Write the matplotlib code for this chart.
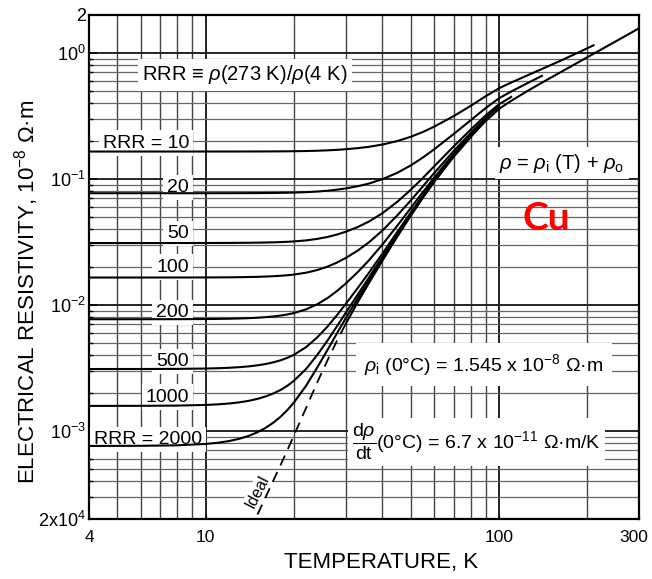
import numpy as np
import matplotlib.pyplot as plt
from matplotlib.transforms import ScaledTranslation

plt.rcParams['font.family'] = ['Liberation Sans', 'DejaVu Sans']
plt.rcParams['mathtext.fontset'] = 'custom'
plt.rcParams['mathtext.rm'] = 'Liberation Sans'
plt.rcParams['mathtext.it'] = 'Liberation Sans:italic'
plt.rcParams['mathtext.bf'] = 'Liberation Sans:bold'

# ideal (intrinsic) resistivity of Cu, in 10^-8 ohm m
T_ideal = [4, 6, 8, 10, 11, 12, 13, 14, 15, 16, 17, 18, 19, 20, 22, 24, 26, 28,
           30, 33, 36, 40, 45, 50, 55, 60, 70, 80, 90, 100, 110, 125, 140, 160,
           180, 210, 240, 270, 300]
rho_ideal = [2.9e-7, 2.2e-6, 9.3e-6, 2.84e-5, 4.58e-5, 7.1e-5, 1.06e-4, 1.53e-4,
             2.16e-4, 2.98e-4, 4.04e-4, 5.37e-4, 7.08e-4, 9.25e-4, 1.53e-3,
             2.43e-3, 3.63e-3, 5.18e-3, 7.07e-3, 1.055e-2, 1.49e-2, 2.24e-2,
             3.49e-2, 5.10e-2, 7.09e-2, 9.44e-2, 0.150, 0.215, 0.288, 0.360,
             0.417, 0.499, 0.581, 0.691, 0.806, 0.985, 1.172, 1.367, 1.568]

# residual resistivity for each RRR and where each curve stops
rrr = [10, 20, 50, 100, 200, 500, 1000, 2000]
rho_0 = [0.165, 0.077, 0.031, 0.0165, 0.0077, 0.0031, 0.00158, 0.00076]
T_end = [210, 140, 110, 100, 90, 80, 80, 80]
rrr_labels = ['RRR = 10', '20', '50', '100', '200', '500', '1000', 'RRR = 2000']

x_ticks = [4, 10, 100, 300]
y_ticks = [2e-4, 1e-3, 1e-2, 1e-1, 1, 2]
y_ticklabels = ['2x10$^{4}$', '10$^{-3}$', '10$^{-2}$', '10$^{-1}$', '10$^{0}$', '2']

fig = plt.figure(figsize=(6.52, 5.79), dpi=100)
ax = fig.add_axes([0.1365, 0.1036, 0.8436, 0.8705])
ax.set_xscale('log')
ax.set_yscale('log')
ax.set_xlim(4, 300)
ax.set_ylim(2e-4, 2)

# chart-paper grid
for x in [5, 6, 7, 8, 9, 20, 30, 40, 50, 60, 70, 80, 90, 200]:
    ax.axvline(x, color='#444444', lw=1.0, zorder=1)
for x in [10, 100]:
    ax.axvline(x, color='#222222', lw=1.4, zorder=1)
for d in range(-4, 1):
    for m in range(1, 10):
        v = m * 10.0 ** d
        if 2e-4 < v < 2:
            if m == 1:
                ax.axhline(v, color='#222222', lw=1.4, zorder=1)
            else:
                ax.axhline(v, color='#666666', lw=0.9, zorder=1)

T = np.array(T_ideal)
ri = np.array(rho_ideal)

# rho = rho_i(T) + rho_0
for r0, te in zip(rho_0, T_end):
    m = T <= te
    ax.plot(T[m], ri[m] + r0, color='black', lw=1.5, zorder=4)

m = T <= 30
ax.plot(T[m], ri[m], color='black', lw=1.3, ls=(0, (6, 4)), zorder=4)
m = T >= 30
ax.plot(T[m], ri[m], color='black', lw=1.5, zorder=4)

box = dict(facecolor='white', edgecolor='none', pad=3)

# RRR labels stacked on the left
label_y = [0.746, 0.657, 0.567, 0.500, 0.409, 0.313, 0.242, 0.157]
label_x = [0.182, 0.182, 0.182, 0.182, 0.182, 0.182, 0.182, 0.205]
for lab, lx, ly in zip(rrr_labels, label_x, label_y):
    ax.text(lx, ly, lab, transform=ax.transAxes, ha='right', va='center',
            fontsize=14, bbox=box, zorder=3)

ax.text(0.284, 0.881, r'RRR ≡ $\rho$(273 K)/$\rho$(4 K)', transform=ax.transAxes,
        ha='center', va='center', fontsize=14.5, bbox=box, zorder=3)
ax.text(0.86, 0.706, r'$\rho$ = $\rho_{\rm i}$ (T) + $\rho_{\rm o}$', transform=ax.transAxes,
        ha='center', va='center', fontsize=14.5, bbox=box, zorder=3)
ax.text(0.718, 0.306, r'$\rho_{\rm i}$ (0°C) = 1.545 x 10$^{-8}$ Ω·m', transform=ax.transAxes,
        ha='center', va='center', fontsize=14, bbox=dict(facecolor='white', edgecolor='none', pad=6), zorder=3)
ax.text(0.704, 0.153, r'$\dfrac{\mathrm{d}\rho}{\mathrm{dt}}$(0°C) = 6.7 x 10$^{-11}$ Ω·m/K',
        transform=ax.transAxes, ha='center', va='center', fontsize=14,
        bbox=dict(facecolor='white', edgecolor='none', pad=3), zorder=3)
ax.text(15.0, 3.3e-4, 'Ideal', rotation=63, ha='center', va='center', fontsize=11.5,
        bbox=dict(facecolor='white', edgecolor='none', pad=1), zorder=3)

ax.text(0.831, 0.597, 'Cu', transform=ax.transAxes, ha='center', va='center',
        fontsize=28, fontweight='bold', color='#ff0000', family=['Lato', 'DejaVu Sans'],
        zorder=5)

ax.set_xticks(x_ticks)
ax.set_xticklabels([str(t) for t in x_ticks])
ax.set_xticks([], minor=True)
ax.set_yticks(y_ticks)
ax.set_yticklabels(y_ticklabels)
ax.tick_params(which='both', direction='in', labelsize=13)
ax.tick_params(axis='x', pad=8, labelsize=12.5)
ax.tick_params(axis='y', which='major', length=6, width=1.2, pad=2)
ax.tick_params(axis='y', which='minor', length=3, width=1.0)
for s in ax.spines.values():
    s.set_linewidth(1.6)

# nudge the last temperature label so it stays inside the figure
lbl = ax.get_xticklabels()[-1]
lbl.set_transform(lbl.get_transform() + ScaledTranslation(-5 / 100, 0, fig.dpi_scale_trans))

fig.text(0.584, 0.028, 'TEMPERATURE, K', ha='center', va='center', fontsize=16)
fig.text(0.040, 0.496, 'ELECTRICAL RESISTIVITY, 10$^{-8}$ Ω·m', rotation=90,
         ha='center', va='center', fontsize=16)

fig.savefig('out.png', dpi=100, facecolor='white')
